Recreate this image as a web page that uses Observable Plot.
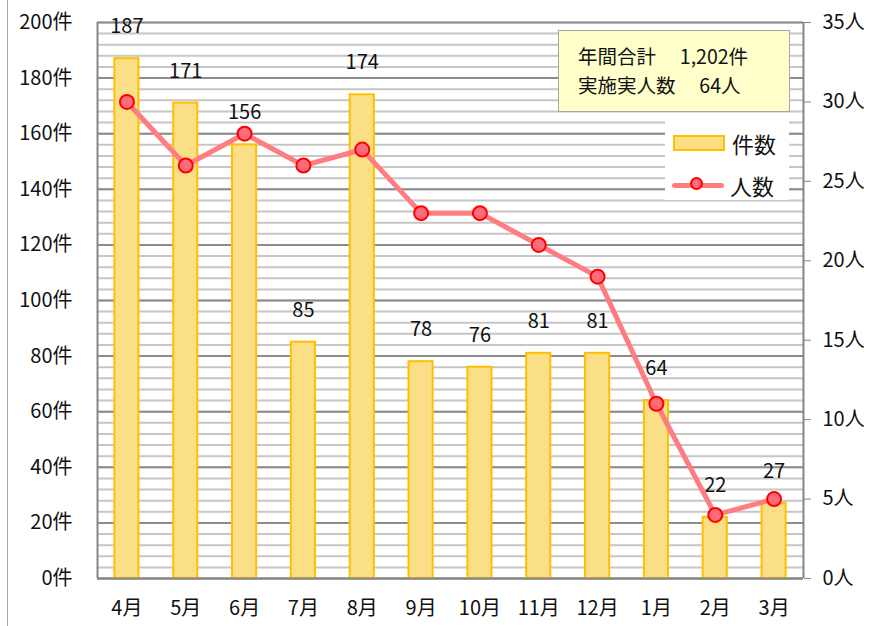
<!DOCTYPE html>
<html>
<head>
<meta charset="utf-8">
<script src="https://cdn.jsdelivr.net/npm/d3@7"></script>
<script src="https://cdn.jsdelivr.net/npm/@observablehq/plot@0.6"></script>
<style>
  html, body { margin: 0; padding: 0; background: #fff; }
  #wrap { position: relative; width: 878px; height: 626px; overflow: hidden; font-family: "Noto Sans CJK JP", "Noto Sans", sans-serif; }
  #frame { position: absolute; left: 7px; top: 0; width: 1px; height: 626px; background: #a6a6a6; }
  #note { position: absolute; left: 558px; top: 30px; width: 232px; height: 82px; background: #ffffcc; border: 1px solid #a6a6a6; box-sizing: border-box; font-size: 19.5px; color: #111; padding: 10px 0 0 19px; line-height: 29px; white-space: pre; }
  #legend { position: absolute; left: 665px; top: 120px; width: 124px; height: 80px; background: #fff; font-size: 22px; color: #111; }
  .li { position: absolute; left: 0; height: 30px; display: flex; align-items: center; }
  .sw { display: inline-block; width: 48px; height: 12px; background: #fadf87; border: 2px solid #ffc000; margin-left: 8px; margin-right: 7px; }
  .ln { position: relative; display: inline-block; width: 52px; height: 5px; background: #ff7c80; border-radius: 3px; margin-left: 7px; margin-right: 6px; }
  .ln::after { content: ""; position: absolute; left: 18px; top: -6px; width: 13px; height: 13px; border-radius: 50%; background: #ff6b78; border: 2px solid #ff0000; box-sizing: border-box; }
</style>
</head>
<body>
<div id="wrap"></div>
<script>
const months = ["4月","5月","6月","7月","8月","9月","10月","11月","12月","1月","2月","3月"];
const counts = [187,171,156,85,174,78,76,81,81,64,22,27];
const people = [30,26,28,26,27,23,23,21,19,11,4,5];
const leftTicks = [0,20,40,60,80,100,120,140,160,180,200];
const rightTicks = [0,5,10,15,20,25,30,35];
const noteLines = ["年間合計　 1,202件", "実施実人数　 64人"];
const legendLabels = ["件数", "人数"];

const K = 200 / 35;
const data = months.map((m, i) => ({month: m, count: counts[i], people: people[i], py: people[i] * K}));
const minor = d3.range(0, 201, 4);

const font = "'Noto Sans CJK JP', 'Noto Sans', sans-serif";
const chart = Plot.plot({
  width: 878,
  height: 626,
  marginLeft: 97,
  marginRight: 75,
  marginTop: 22,
  marginBottom: 48,
  style: {fontFamily: font, fontSize: "20px", color: "#111", background: "#fff"},
  x: {type: "band", domain: months, paddingInner: 0.59, paddingOuter: 0.295, round: false},
  y: {domain: [0, 200]},
  marks: [
    Plot.ruleY(minor, {stroke: "#c6c6c6", strokeWidth: 2}),
    Plot.ruleY(leftTicks, {stroke: "#8c8c8c", strokeWidth: 2}),
    Plot.barY(data, {x: "month", y: "count", fill: "#fadf87", stroke: "#ffc000", strokeWidth: 2}),
    Plot.ruleX([months[0]], {stroke: "#868686", strokeWidth: 2, dx: -29.4, y1: 0, y2: 200}),
    Plot.ruleY([0], {stroke: "#868686", strokeWidth: 2}),
    Plot.axisY({ticks: leftTicks, tickSize: 0, tickPadding: 25, tickFormat: d => d + "件", fontSize: 20, label: null}),
    Plot.axisY({anchor: "right", ticks: rightTicks.map(v => v * K), tickSize: 7, tickPadding: 12, stroke: "#868686", tickFormat: d => Math.round(d / K) + "人", fontSize: 20, label: null}),
    Plot.ruleX([months[11]], {stroke: "#868686", strokeWidth: 2, dx: 29.4, y1: 0, y2: 200}),
    Plot.axisX({tickSize: 0, tickPadding: 22, fontSize: 20, label: null}),
    Plot.text(data, {x: "month", y: "count", text: d => String(d.count), dy: -32, fontSize: 20, fill: "#111"}),
    Plot.line(data, {x: "month", y: "py", stroke: "#ff7c80", strokeWidth: 5, strokeLinejoin: "round"}),
    Plot.dot(data, {x: "month", y: "py", r: 7, fill: "#ff6b78", stroke: "#ff0000", strokeWidth: 2})
  ]
});

const wrap = document.getElementById("wrap");
wrap.appendChild(chart);
const frame = document.createElement("div"); frame.id = "frame"; wrap.appendChild(frame);
const note = document.createElement("div"); note.id = "note"; note.textContent = noteLines.join("\n"); wrap.appendChild(note);
const legend = document.createElement("div"); legend.id = "legend";
legend.innerHTML = `<div class="li" style="top:8px"><span class="sw"></span><span>${legendLabels[0]}</span></div>
<div class="li" style="top:50px"><span class="ln"></span><span>${legendLabels[1]}</span></div>`;
wrap.appendChild(legend);
chart.style.position = "absolute"; chart.style.left = "0"; chart.style.top = "0";
</script>
</body>
</html>
